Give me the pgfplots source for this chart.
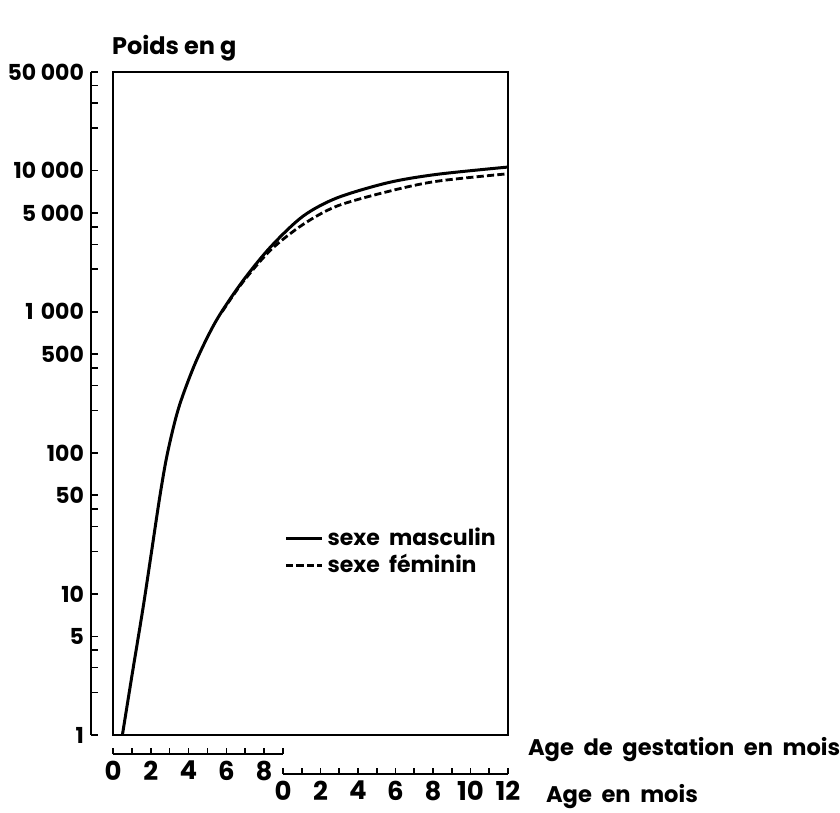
\documentclass[border=0pt]{standalone}
\usepackage{fontspec}
\setmainfont{Poppins}
\usepackage{pgfplots}
\pgfplotsset{compat=1.18}

\pgfplotstableread{
x y
0.5 1
1.0 2.6
1.6 8
2.0 18
2.5 50
2.9 100
3.5 210
4.4 440
5.5 870
6.9 1650
8.4 2900
10.1 4750
11.9 6400
14.6 8200
17.2 9400
21 10600
}\masculin

\pgfplotstableread{
x y
5.8 1000
6.9 1620
8.4 2750
10.1 4150
11.9 5600
14.6 7100
17.2 8400
21 9500
}\feminin

\begin{document}
\begin{tikzpicture}[x=1pt,y=1pt]
\useasboundingbox (-56.5,-39) rectangle (363.5,367.5);

% cadre et courbes
\begin{axis}[
    at={(0,0)}, anchor=south west,
    scale only axis, width=197.5pt, height=331.5pt,
    xmin=0, xmax=21, ymode=log, ymin=1, ymax=50000,
    xtick=\empty, ytick=\empty,
    axis line style={line width=1pt},
    legend style={draw=none, fill=none, at={(0.995,0.325)}, anchor=north east,
      font=\bfseries\fontsize{11}{13}\selectfont, row sep=-1pt,
      /tikz/every even column/.append style={column sep=0pt}},
    legend cell align=left,
    legend image code/.code={\draw[#1] (0pt,0pt) -- (18pt,0pt);},
  ]
  \addplot[black, line width=1.5pt, smooth] table {\masculin};
  \addlegendentry{sexe\ \ masculin}
  \addplot[black, line width=1.4pt, smooth, dash pattern=on 3.6pt off 1.6pt] table {\feminin};
  \addlegendentry{sexe\ \ féminin}
\end{axis}

% echelle des poids
\begin{axis}[
    at={(-11pt,0)}, anchor=south west,
    scale only axis, width=1pt, height=331.5pt,
    xmin=0, xmax=1, ymode=log, ymin=1, ymax=50000,
    axis y line=left, axis x line=none,
    ytick={1,5,10,50,100,500,1000,5000,10000,50000},
    yticklabels={1,5,10,50,100,500,1\,\,000,5 000,10 000,50 000},
    minor ytick={2,3,4,20,30,40,200,300,400,2000,3000,4000,20000,30000,40000},
    tick align=inside, major tick length=3.5pt, minor tick length=3.5pt,
    tick style={black, line width=0.8pt},
    axis line style={-, line width=1pt},
    yticklabel style={font=\bfseries\fontsize{11}{13}\selectfont},
  ]
\end{axis}

% age de gestation
\begin{axis}[
    at={(0,-9.5pt)}, anchor=south west,
    scale only axis, width=85pt, height=1pt,
    xmin=0, xmax=9, ymin=0, ymax=1,
    axis x line=bottom, axis y line=none,
    xtick={0,...,9}, xticklabels={0,,2,,4,,6,,8,},
    tick align=inside, major tick length=3pt,
    tick style={black, line width=0.8pt},
    axis line style={-, line width=0.9pt},
    xticklabel style={font=\bfseries\fontsize{13}{15}\selectfont},
  ]
\end{axis}

% age apres la naissance
\begin{axis}[
    at={(85pt,-19.5pt)}, anchor=south west,
    scale only axis, width=112.5pt, height=1pt,
    xmin=0, xmax=12, ymin=0, ymax=1,
    axis x line=bottom, axis y line=none,
    xtick={0,...,12}, xticklabels={0,,2,,4,,6,,8,,10,,12},
    tick align=inside, major tick length=3pt,
    tick style={black, line width=0.8pt},
    axis line style={-, line width=0.9pt},
    xticklabel style={font=\bfseries\fontsize{13}{15}\selectfont},
  ]
\end{axis}

\node[anchor=west, font=\bfseries\fontsize{12}{14}\selectfont] at (-4,343.5) {Poids en g};
\node[anchor=west, font=\bfseries\fontsize{11.3}{13}\selectfont] at (204,-7.5) {Age\ \ de\ \ gestation\ \ en\ \ mois};
\node[anchor=west, font=\bfseries\fontsize{11.3}{13}\selectfont] at (213,-31) {Age\ \ en\ \ mois};
\end{tikzpicture}
\end{document}
